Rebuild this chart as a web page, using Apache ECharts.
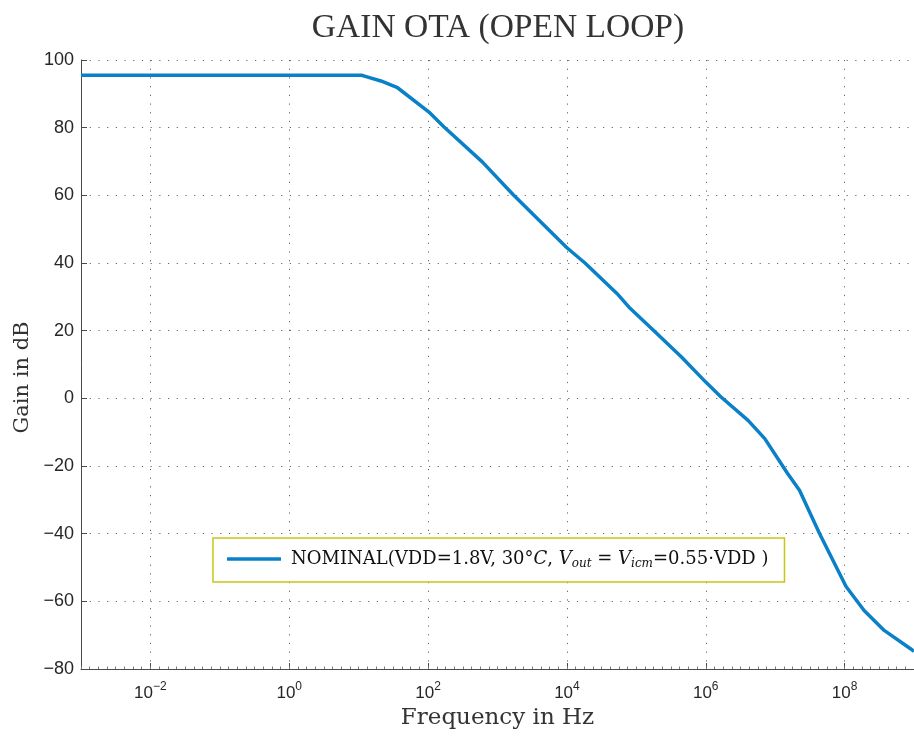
<!DOCTYPE html>
<html>
<head>
<meta charset="utf-8">
<title>Gain OTA (open loop)</title>
<script src="https://cdn.jsdelivr.net/npm/echarts@6/dist/echarts.min.js"></script>
<style>
  html, body { margin: 0; padding: 0; background: #ffffff; }
  #chart { width: 914px; height: 736px; }
</style>
</head>
<body>
<div id="chart"></div>
<script>
// Open-loop gain of the OTA, nominal corner
const frequencyHz = [1e-3, 11, 12.8, 20.9, 36.3, 102, 170, 603, 1700, 1.0e4, 1.82e4, 5.25e4, 8.13e4,
  1.76e5, 4.47e5, 1.0e6, 1.66e6, 4.07e6, 7.08e6, 1.51e7, 2.24e7, 4.37e7, 1.05e8, 1.91e8, 3.72e8, 8.9e8, 1e9];
const gainDb = [95.5, 95.5, 95.1, 93.8, 91.8, 84.7, 80.2, 69.9, 60.1, 44.5, 40.0, 31.0, 26.6,
  20.1, 12.2, 4.8, 0.4, -6.5, -11.9, -22.2, -27.2, -40.0, -55.6, -62.7, -68.6, -74.0, -74.8];

const seriesName = 'NOMINAL(VDD=1.8V, 30°C, Vout = Vicm=0.55·VDD )';
const yTicks = [-80, -60, -40, -20, 0, 20, 40, 60, 80, 100];
const xRangeHz = [1e-3, 1e9];

const SERIF = '"DejaVu Serif", "Liberation Serif", serif';
const TITLE_SERIF = '"Liberation Serif", "DejaVu Serif", serif';
const SANS = '"Liberation Sans", Arial, Helvetica, sans-serif';
const INK = '#262626';
const AXIS = '#4a4a4a';
const GRID_DOTS = { color: '#666666', width: 1, type: [1.2, 7.5] };

const chart = echarts.init(document.getElementById('chart'), null, { renderer: 'canvas' });

const points = frequencyHz.map((f, i) => [f, gainDb[i]]);

const LEG_FONT = 18;
const legendRich = {
  a0: { fontFamily: SERIF, fontSize: LEG_FONT, color: '#111111', lineHeight: 22, padding: [0, 0, 0, 5] },
  a: { fontFamily: SERIF, fontSize: LEG_FONT, color: '#111111', lineHeight: 22 },
  i: { fontFamily: SERIF, fontSize: LEG_FONT, fontStyle: 'italic', color: '#111111', lineHeight: 22 },
  s: { fontFamily: SERIF, fontSize: 12, fontStyle: 'italic', color: '#111111', padding: [10, 0, 0, 0] }
};

const option = {
  backgroundColor: '#ffffff',
  animation: false,
  title: {
    text: 'GAIN OTA (OPEN LOOP)',
    left: 493,
    textAlign: 'center',
    top: 6,
    textStyle: { fontFamily: TITLE_SERIF, fontSize: 33.5, fontWeight: 'normal', color: '#333333' }
  },
  grid: { left: 81, top: 60, width: 836, height: 609, containLabel: false },
  legend: {
    data: [seriesName],
    left: 213,
    top: 538,
    orient: 'horizontal',
    padding: [12, 16, 12, 14],
    icon: 'rect',
    itemWidth: 54,
    itemHeight: 3.5,
    backgroundColor: '#ffffff',
    borderColor: '#c8c614',
    borderWidth: 1.5,
    borderRadius: 0,
    formatter: () => '{a0|NOMINAL(VDD=1.8V, 30°}{i|C}{a|, }{i|V}{s|out}{a| = }{i|V}{s|icm}{a|=0.55·VDD )}',
    textStyle: { fontFamily: SERIF, fontSize: LEG_FONT, color: '#111111', rich: legendRich }
  },
  xAxis: [
    {
      type: 'log',
      logBase: 100,
      min: xRangeHz[0],
      max: xRangeHz[1],
      name: 'Frequency in Hz',
      nameLocation: 'middle',
      nameGap: 36,
      nameTextStyle: { fontFamily: SERIF, fontSize: 23, color: '#333333' },
      axisLine: { show: true, onZero: false, lineStyle: { color: AXIS, width: 1 } },
      axisTick: { show: true, inside: true, length: 6, lineStyle: { color: AXIS } },
      splitLine: { show: true, lineStyle: GRID_DOTS },
      axisLabel: {
        show: true,
        margin: 10,
        showMinLabel: false,
        showMaxLabel: false,
        formatter: (v) => {
          const e = Math.round(Math.log10(v));
          return '{b|10}{e|' + String(e).replace('-', '−') + '}';
        },
        rich: {
          b: { fontFamily: SANS, fontSize: 17, color: INK, padding: [6, 0, 0, 0] },
          e: { fontFamily: SANS, fontSize: 12, color: INK, padding: [0, 0, 8, 0] }
        }
      }
    },
    {
      // minor tick marks along the bottom axis, 8 per decade
      type: 'value',
      min: -3,
      max: 9,
      interval: 0.125,
      position: 'bottom',
      show: true,
      axisLine: { show: false, onZero: false },
      axisLabel: { show: false },
      splitLine: { show: false },
      axisTick: { show: true, inside: true, length: 2.5, lineStyle: { color: '#7a7a7a' } }
    }
  ],
  yAxis: {
    type: 'value',
    min: yTicks[0],
    max: yTicks[yTicks.length - 1],
    interval: 20,
    name: 'Gain in dB',
    nameLocation: 'middle',
    nameGap: 35,
    nameTextStyle: { fontFamily: SERIF, fontSize: 21, color: '#333333', padding: [0, 26, 0, 0] },
    axisLine: { show: true, onZero: false, lineStyle: { color: AXIS, width: 1 } },
    axisTick: { show: true, inside: true, length: 6, lineStyle: { color: AXIS } },
    splitLine: { show: true, lineStyle: GRID_DOTS },
    axisLabel: {
      margin: 7,
      fontFamily: SANS,
      fontSize: 18,
      color: INK,
      formatter: (v) => String(v).replace('-', '−')
    }
  },
  series: [
    {
      name: seriesName,
      type: 'line',
      xAxisIndex: 0,
      data: points,
      symbol: 'none',
      smooth: false,
      clip: true,
      lineStyle: { color: '#0a80c8', width: 3.5 },
      itemStyle: { color: '#0a80c8' }
    }
  ]
};

chart.setOption(option);
</script>
</body>
</html>
